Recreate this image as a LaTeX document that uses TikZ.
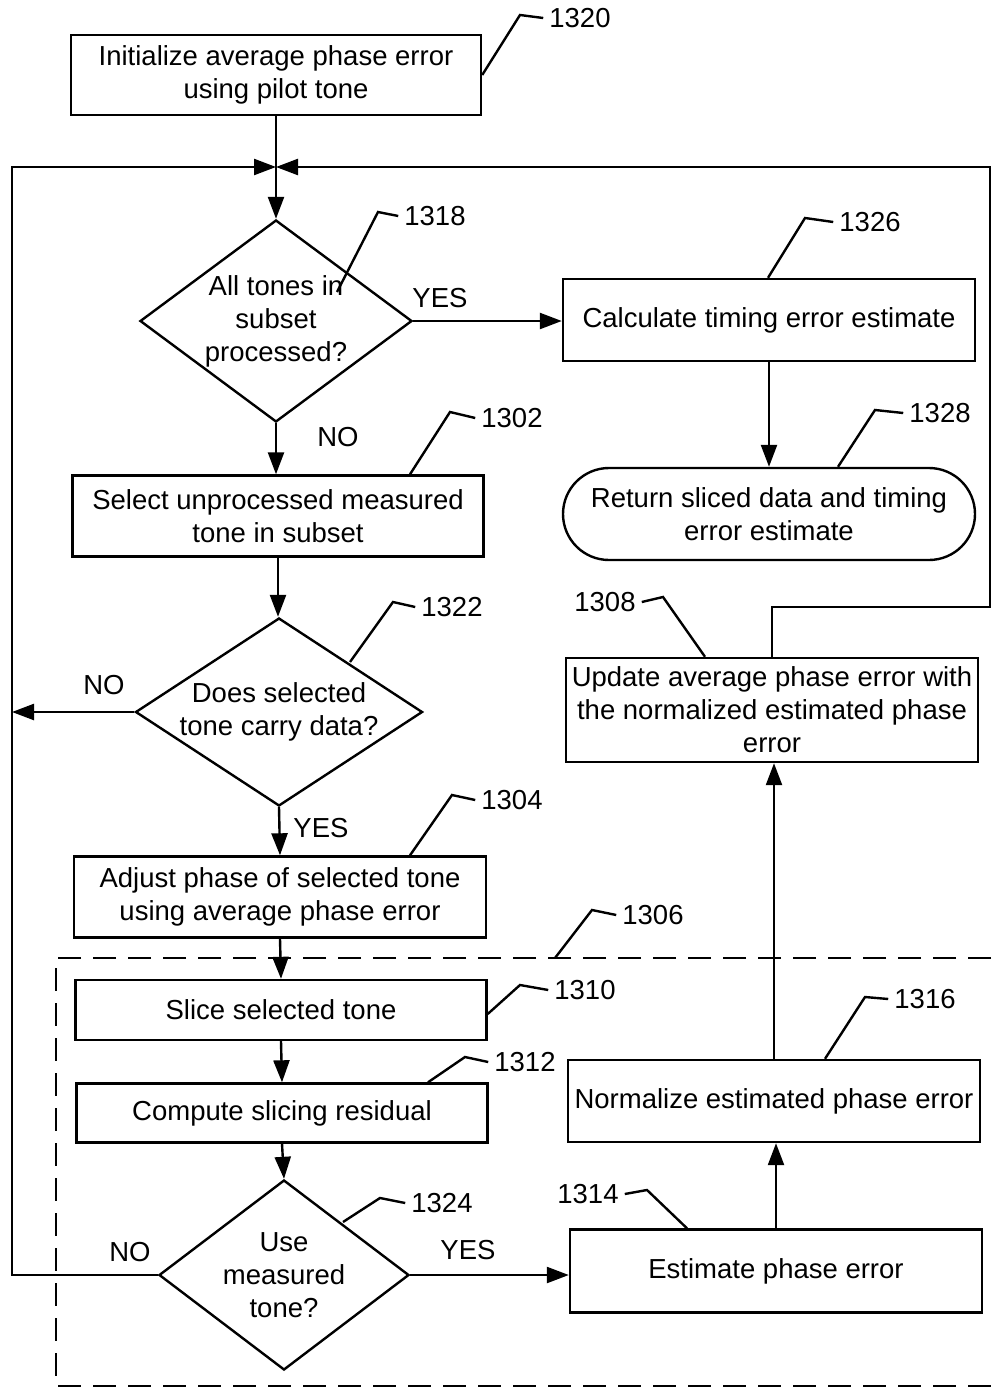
\documentclass[tikz,border=0pt]{standalone}
\usepackage{fontspec}
\setmainfont{Liberation Sans}
\usetikzlibrary{shapes.geometric, arrows.meta, positioning}

\begin{document}
\begin{tikzpicture}[
    x=1pt, y=-1pt,
    font=\fontsize{27.5}{33}\selectfont,
    line width=2.4pt,
    process/.style={rectangle, draw, minimum width=412, minimum height=82, align=center, inner sep=0},
    terminal/.style={rectangle, draw, rounded corners=46, minimum width=412, minimum height=92, align=center, inner sep=0},
    decision/.style={diamond, draw, inner sep=0},
    tag/.style={inner sep=5pt},
    arrow/.style={-{Triangle[length=22pt,width=16pt]}}
]
\useasboundingbox (0,0) rectangle (991,1389);

% Process steps
\node[process, minimum width=410, minimum height=80] (init) at (276,75) {Initialize average phase error\\using pilot tone};
\node[process] (calc) at (769,320) {Calculate timing error estimate};
\node[terminal] (ret) at (769,514) {Return sliced data and timing\\error estimate};
\node[process, minimum width=411, minimum height=81] (sel) at (278,516) {Select unprocessed measured\\tone in subset};
\node[process, minimum height=81] (adj) at (280,897) {Adjust phase of selected tone\\using average phase error};
\node[process, minimum width=411, minimum height=60] (slice) at (281,1010) {Slice selected tone};
\node[process, minimum width=411, minimum height=59] (comp) at (282,1113) {Compute slicing residual};
\node[process, minimum height=83] (est) at (776,1271) {Estimate phase error};
\node[process] (norm) at (774,1101) {Normalize estimated phase error};
\node[process, minimum height=104] (upd) at (772,710) {Update average phase error with\\the normalized estimated phase\\error};

% Decisions
\node[decision, minimum width=272, minimum height=202] (tones) at (276,321) {};
\node[align=center] (tonestxt) at (tones) {All tones in\\subset\\processed?};
\node[decision, minimum width=287, minimum height=188] (data) at (279,712) {};
\node[align=center] (datatxt) at (data) {Does selected\\tone carry data?};
\node[decision, minimum width=250, minimum height=190] (use) at (284,1275) {};
\node[align=center] (usetxt) at (use) {Use\\measured\\tone?};

% Loop points
\coordinate (merge) at (276,167);
\coordinate (lft) at (12,167);
\coordinate (rgt) at (990,167);

% Arrows
\draw (init.south) -- (merge);
\draw[arrow] (merge) -- (tones.north);
\draw[arrow] (tones.east) -- (tones.east -| calc.west);
\node (yes1) at (440,298) {YES};
\draw[arrow] (calc.south) -- (ret.north);
\draw[arrow] (tones.south) -- (tones.south |- sel.north);
\node (no1) at (338,437) {NO};
\draw[arrow] (sel.south) -- (sel.south |- data.north);
\draw[arrow] (data.west) -- (data.west -| lft);
\node (no2) at (104,685) {NO};
\draw[arrow] (data.south) -- (adj.north);
\node (yes2) at (321,828) {YES};
\draw[arrow] (adj.south) -- (slice.north);
\draw[arrow] (slice.south) -- (comp.north);
\draw[arrow] (comp.south) -- (use.north);
\draw[arrow] (use.west) -| (lft) -- (merge);
\node (no3) at (130,1252) {NO};
\draw[arrow] (use.east) -- (use.east -| est.west);
\node (yes3) at (468,1250) {YES};
\draw[arrow] (est.north) -- (est.north |- norm.south);
\draw[arrow] (norm.north) -- (norm.north |- upd.south);
\draw[arrow] (upd.north) -- ++(0,-50) -| (rgt) -- (merge);

% Dashed group
\draw[dash pattern=on 23pt off 12pt] (991,958) -| (56,1386) -- (991,1386);

% Reference numerals
\node[tag] (t1320) at (580,18) {1320};
\draw (init.east) -- (520,15) -- (t1320.west);
\node[tag] (t1318) at (435,216) {1318};
\draw ([shift={(61,-29)}]tones.center) -- (378,212) -- (t1318.west);
\node[tag] (t1326) at (870,222) {1326};
\draw ([xshift=-1pt]calc.north) -- (805,218) -- (t1326.west);
\node[tag] (t1328) at (940,413) {1328};
\draw ([xshift=69pt]ret.north) -- (875,410) -- (t1328.west);
\node[tag] (t1302) at (512,418) {1302};
\draw ([xshift=132pt]sel.north) -- (450,412) -- (t1302.west);
\node[tag] (t1322) at (452,607) {1322};
\draw ([shift={(71,-50)}]data.center) -- (393,602) -- (t1322.west);
\node[tag] (t1304) at (512,800) {1304};
\draw ([xshift=130pt]adj.north) -- (452,795) -- (t1304.west);
\node[tag] (t1306) at (653,915) {1306};
\draw (555,958) -- (592,910) -- (t1306.west);
\node[tag] (t1310) at (585,990) {1310};
\draw ([yshift=-4pt]slice.east) -- (520,985) -- (t1310.west);
\node[tag] (t1312) at (525,1062) {1312};
\draw ([xshift=146pt]comp.north) -- (465,1057) -- (t1312.west);
\node[tag] (t1324) at (442,1203) {1324};
\draw ([shift={(59,-53)}]use.center) -- (380,1198) -- (t1324.west);
\node[tag] (t1314) at (588,1194) {1314};
\draw (t1314.east) -- (647,1190) -- ([xshift=-89pt]est.north);
\node[tag] (t1316) at (925,999) {1316};
\draw ([xshift=51pt]norm.north) -- (865,997) -- (t1316.west);
\node[tag] (t1308) at (605,602) {1308};
\draw (t1308.east) -- (663,597) -- ([xshift=-67pt]upd.north);

\end{tikzpicture}
\end{document}
